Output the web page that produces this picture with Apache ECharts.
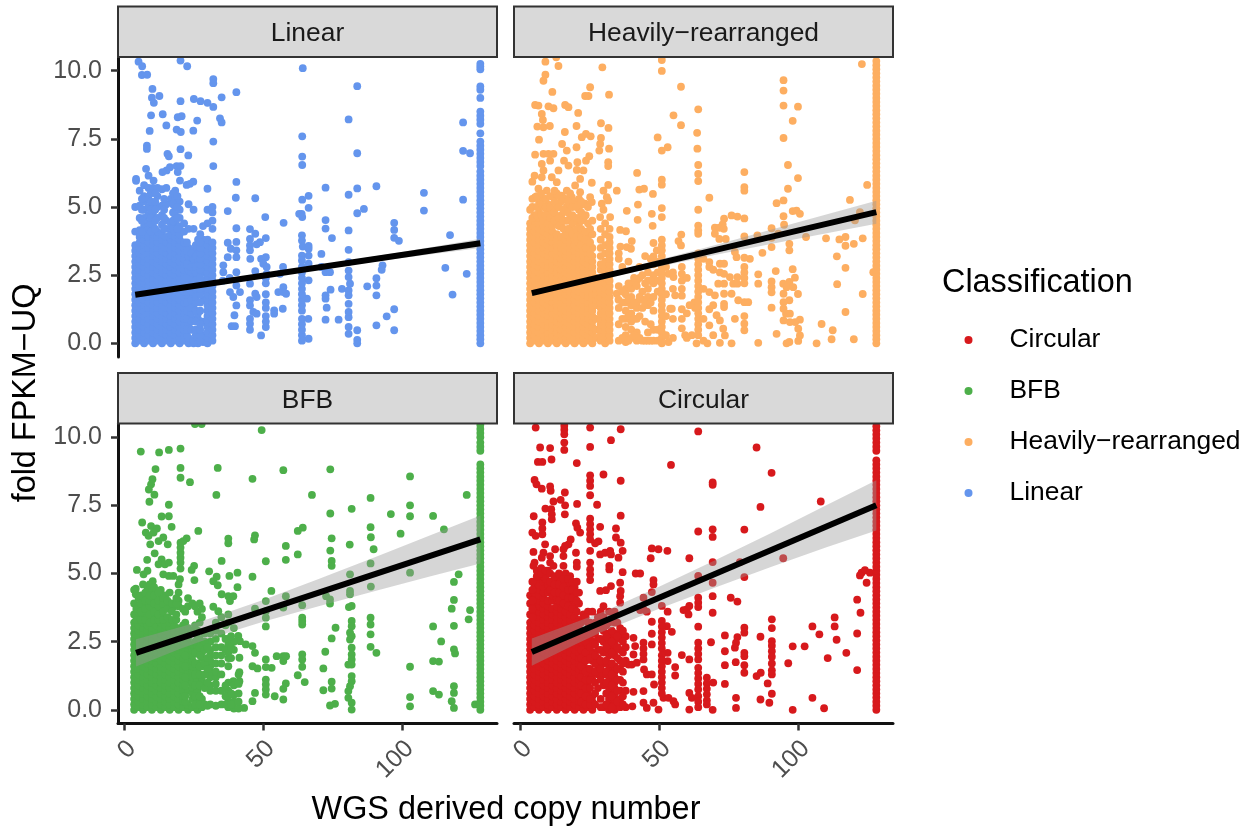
<!DOCTYPE html>
<html><head><meta charset="utf-8">
<script src="https://cdn.jsdelivr.net/npm/echarts@6/dist/echarts.min.js"></script>
<style>html,body{margin:0;padding:0;background:#fff}#c{width:1259px;height:827px}</style>
</head><body><div id="c"></div>
<script>
const classNames = ["Circular","BFB","Heavily\u2212rearranged","Linear"];
const classColors = ["#d7191c","#4daf4a","#fdae61","#6495ed"];
const xTicks = [0,50,100];
const yTicks = [0,2.5,5,7.5,10];

// Stacks of points: [copy number, fold value, fold value, ...]
const linearColumns = [
[128.2,0,.15,.3,.45,.6,.75,.9,1.05,1.2,1.35,1.5,1.65,1.8,1.95,2.1,2.25,2.4,2.55,2.7,2.85,3,3.15,3.3,3.45,3.6,3.75,3.9,4.05,4.2,4.35,4.5,4.65,4.8,4.95,5.1,5.25,5.4,5.55,5.7,5.85,6,6.15,6.3,6.5,6.65,6.8,6.95,7.1,7.25,7.4,7.7,8.05,8.2,8.35,8.5,9,9.3,9.42,10.05,10.15,10.25],
[4,0,.2,.4,.6,.8,1,1.2,1.4,1.6,1.8,2,2.2,2.4,2.6,2.8,3,3.2,3.4,3.6,4.1,5],
[5.6,.1,.3,.5,.7,.9,1.1,1.3,1.5,1.7,1.9,2.1,2.3,2.5,2.7,2.9,3.1,3.3,3.5,3.7,3.9,4.15,4.6,5.05,5.6],
[7.2,0,.2,.4,.6,.8,1,1.2,1.4,1.6,1.8,2,2.2,2.4,2.6,2.8,3,3.2,3.4,3.6,3.8,4,4.3,4.6,4.9,5.2,5.4,5.8],
[8.8,.1,.3,.5,.7,.9,1.1,1.3,1.5,1.7,1.9,2.1,2.3,2.5,2.7,2.9,3.1,3.3,3.5,3.7,3.9,4.2,4.4,4.7,5,5.3,5.7],
[10.4,0,.2,.4,.6,.8,1,1.2,1.4,1.6,1.8,2,2.2,2.4,2.6,2.8,3,3.2,3.4,3.6,3.8,4,4.3,4.8,5.1,5.7],
[12,.1,.3,.5,.7,.9,1.1,1.3,1.5,1.7,1.9,2.1,2.3,2.5,2.7,2.9,3.1,3.3,3.5,3.7,3.9,4.1,4.6,5,5.4,5.7],
[13.6,0,.2,.4,.6,.8,1,1.2,1.4,1.6,1.8,2,2.2,2.4,2.6,2.8,3,3.2,3.4,3.6,3.8,4,4.35,4.7,5.05,5.65],
[15.2,.1,.3,.5,.7,.9,1.1,1.3,1.5,1.7,1.9,2.1,2.3,2.5,2.7,2.9,3.1,3.3,3.5,3.7,3.9,4.2,4.5,5.1,5.7],
[16.8,0,.2,.4,.6,.8,1,1.2,1.4,1.6,1.8,2,2.2,2.4,2.6,2.8,3,3.2,3.4,3.6,3.8,4,4.4,5.3],
[18.4,.1,.3,.5,.7,.9,1.1,1.3,1.5,1.7,1.9,2.1,2.3,2.5,2.7,2.9,3.1,3.3,3.5,3.7,3.9,4.1,4.4,4.7,5,5.3,5.6],
[20,0,.2,.4,.6,.8,1,1.2,1.4,1.6,1.8,2,2.2,2.4,2.6,2.8,3,3.2,3.4,3.6,3.8,4,4.3,4.6,4.9,5.2],
[21.6,.1,.3,.5,.7,.9,1.1,1.3,1.5,1.7,1.9,2.1,2.3,2.5,2.7,2.9,3.1,3.3,3.5,3.7,4.1,4.4],
[23.2,0,.2,.7,.9,1.1,1.4,1.6,1.8,2,2.2,2.5,2.7,3,3.2,3.5,4.2,5.1],
[25,0,.1,.9,1.2,1.4,1.8,2,2.2,2.4,2.9,3.1,3.4,4.2,4.9],
[26.6,0,.9,1.1,1.9,2.1,2.3,2.5,2.7,2.9,3.1,3.3,3.8],
[28.4,.05,.3,.8,1.6,1.9,2.1,2.3,2.6,2.8,3,3.2,3.4,3.6,3.8,4.3],
[30,0,.2,.4,.6,.8,1,1.2,1.4,1.6,1.8,2,2.2,2.4,2.6,2.8,3,3.2,3.4,3.6,3.8,4.4,4.9],
[31.8,.1,.3,.5,.7,.9,1.1,1.3,1.5,1.7,1.9,2.1,2.3,2.5,2.7,2.9,3.1,3.3,3.5,3.7,4.2,4.5,4.8,5],
[64,.1,.3,.5,.7,.9,1.2,1.4,1.6,1.8,2,2.2,2.4,2.6,2.8],
[51,.6,.8,1,1.3,1.5,1.8,2.2,2.4],
[80.8,.35,.6,.96,1.15,1.45,1.76,1.94,2.43,2.67,2.98,3.43],
[22.6,.3,.5,.9,1.2,1.5,1.9,2.1,2.4,2.9,3.4,3.7],
[24.2,.5,.8,1.1,1.3,1.6,1.9,2.1,2.6,2.8,3.3],
[25.8,.3,.5,.8,1.2,1.5,1.7,2,2.3,2.6,2.8,3.2,3.6],
[27.4,.1,.3,.5,.7,1.2,1.5,1.8,2,2.2,2.4,2.7,2.9,3.1,3.3,3.5,3.7,4],
[6.4,4.1,4.5,4.9,5.3],[9.6,4.1,4.4,4.6,4.9,5.2,5.5],[11.2,4.2,4.5,4.9,5.2,5.5],[14.4,4.2,4.6,4.9,5.3],[17.6,4.2,4.5,4.8,5.1,5.5],[19.2,4.2,4.6,5,5.4]
];
const linearPoints = [[5.2,10.33],[6.5,10.16],[6.4,9.84],[8.3,9.85],[10.2,9.33],[12.7,9.07],[10,9.01],[10.7,8.82],[20.3,10.37],[22.7,10.16],[32.1,9.69],[32.1,9.54],[35.1,9.02],[40.4,9.21],[20.3,8.88],[25.1,8.96],[27.5,8.88],[30,8.82],[32.1,8.67],[34.5,8.25],[35.1,8.1],[26.3,8.17],[9.7,8.36],[13.9,8.4],[19.3,8.29],[20.7,8.33],[15.2,7.99],[9.2,7.79],[18.9,7.84],[20.4,7.75],[24.9,7.8],[32.1,7.4],[8.2,7.25],[8.2,7.13],[20.3,7.12],[15.6,6.95],[16.1,6.86],[23.1,6.89],[32.1,6.5],[7.9,6.4],[15.3,6.34],[16.5,6.46],[18.9,6.5],[20.3,6.5],[13.8,6.28],[19.3,6.28],[8.8,6.15],[10.6,5.97],[4.3,6.03],[4.3,5.96],[20.1,5.97],[24.9,5.93],[22.5,5.81],[23.7,5.85],[30,5.67],[40.4,5.92],[40.2,5.34],[47.2,5.32],[37.3,4.85],[64.3,10.09],[83.9,9.43],[80.8,8.21],[122,8.1],[64.1,7.59],[64.1,6.85],[64.1,6.54],[83.9,6.97],[122,7.06],[124.5,6.97],[72.5,5.71],[80.8,5.45],[83.9,5.68],[90.8,5.76],[107.9,5.52],[107.9,4.87],[122,5.27],[66.4,5.41],[64.1,5.27],[66.4,4.97],[86.3,4.93],[83.9,4.77],[63.9,4.75],[63,4.75],[64.1,4.63],[50.8,4.63],[57.4,4.42],[72.5,4.52],[72.5,4.21],[80.8,4.14],[97.2,4.42],[97.2,4.16],[97.2,3.87],[98.9,3.76],[117.3,3.97],[74.8,3.86],[64,3.96],[64,3.77],[64.3,3.55],[66.4,3.57],[66.4,3.47],[45.3,4.19],[47.2,4.02],[51,3.86],[48.9,3.71],[47.7,3.63],[45.3,3.83],[45.3,3.59],[45.3,3.41],[40.4,4.22],[40.4,3.72],[37.3,3.69],[38.4,3.47],[40.4,3.41],[40.4,3.16],[37.3,3.16],[45.4,3.1],[35.7,2.86],[35.7,2.61],[40.4,2.61],[47.2,2.65],[49.3,3.1],[51,3.16],[50.1,2.92],[51.3,2.8],[51.3,2.55],[57.2,2.8],[56.1,2.55],[64,3.22],[64,3.04],[66.4,3.22],[66.4,2.92],[71,3.28],[71,2.8],[72.5,2.61],[74.1,2.61],[93,2.86],[92.7,2.7],[90.8,2.39],[90.8,2.12],[90.8,1.76],[87.5,2.09],[81.3,2.19],[83.9,.48],[83.9,.13],[83.9,0],[97.2,1.25],[94.5,.99],[90.8,.66],[97.2,.48],[115.6,2.77],[118.2,1.79],[123.3,2.55],[78.4,2],[74.3,1.97],[72.5,1.76],[72.5,1.64],[72.9,1.31],[72.5,.87],[77.2,.87],[66.3,.9],[66.4,2.31],[65.8,1.64],[66.4,.17],[57.3,2.06],[57.3,1.88],[55.5,1.88],[58.3,1.82],[57.1,1.27],[54,1.21],[54,1.09],[49.3,.29],[45.3,1.58],[45.3,1.39],[45.3,.9],[45.3,.72],[45.3,.5],[47.2,1.82],[47.7,1.7],[46.5,1.15],[47.7,1.09],[40.4,2.12],[40.4,1.39],[39.7,1.03],[38.7,.63],[39.9,.63],[38.1,1.88],[39.3,1.7],[41.7,1.88],[45.3,2.19],[35.5,2.3],[38,2.4]];

const heavyColumns = [
[128.2,0,.15,.3,.45,.6,.75,.9,1.05,1.2,1.35,1.5,1.65,1.8,1.95,2.1,2.25,2.4,2.55,2.7,2.85,3,3.15,3.3,3.45,3.6,3.75,3.9,4.05,4.2,4.35,4.5,4.65,4.8,4.95,5.1,5.25,5.4,5.55,5.7,5.85,6,6.15,6.3,6.45,6.6,6.75,6.9,7.05,7.2,7.35,7.5,7.65,7.8,7.95,8.1,8.25,8.4,8.55,8.7,8.85,9,9.15,9.3,9.45,9.6,9.75,9.9,10.05,10.2,10.35],
[3.6,0,.2,.4,.6,.8,1,1.2,1.4,1.6,1.8,2,2.2,2.4,2.6,2.8,3,3.2,3.4,3.6,3.8,4,4.2,4.4,4.9],
[5.2,.1,.3,.5,.7,.9,1.1,1.3,1.5,1.7,1.9,2.1,2.3,2.5,2.7,2.9,3.1,3.3,3.5,3.7,3.9,4.1,4.3,4.5,4.7],
[6.8,0,.2,.4,.6,.8,1,1.2,1.4,1.6,1.8,2,2.2,2.4,2.6,2.8,3,3.2,3.4,3.6,3.8,4,4.2,4.4,4.6,4.8,5.2],
[8.4,.1,.3,.5,.7,.9,1.1,1.3,1.5,1.7,1.9,2.1,2.3,2.5,2.7,2.9,3.1,3.3,3.5,3.7,3.9,4.1,4.3,4.5,4.7,5,5.3],
[10,0,.2,.4,.6,.8,1,1.2,1.4,1.6,1.8,2,2.2,2.4,2.6,2.8,3,3.2,3.4,3.6,3.8,4,4.2,4.4,4.7,5.1],
[11.6,.1,.3,.5,.7,.9,1.1,1.3,1.5,1.7,1.9,2.1,2.3,2.5,2.7,2.9,3.1,3.3,3.5,3.7,3.9,4.1,4.3,4.6,4.8],
[13.2,0,.2,.4,.6,.8,1,1.2,1.4,1.6,1.8,2,2.2,2.4,2.6,2.8,3,3.2,3.4,3.6,3.8,4,4.4,5,5.5],
[14.8,.1,.3,.5,.7,.9,1.1,1.3,1.5,1.7,1.9,2.1,2.3,2.5,2.7,2.9,3.1,3.3,3.5,3.7,3.9,4.3,4.7,5.2],
[16.4,0,.2,.4,.6,.8,1,1.2,1.4,1.6,1.8,2,2.2,2.4,2.6,2.8,3,3.2,3.4,3.6,3.8,4,4.5,4.9,5.3],
[18,.1,.3,.5,.7,.9,1.1,1.3,1.5,1.7,1.9,2.1,2.3,2.5,2.7,2.9,3.1,3.3,3.5,3.7,3.9,4.2,4.6,5.1,5.5],
[19.6,0,.2,.4,.6,.8,1,1.2,1.4,1.6,1.8,2,2.2,2.4,2.6,2.8,3,3.2,3.4,3.6,3.8,4.1,4.5,5.2],
[21.2,.1,.3,.5,.7,.9,1.1,1.3,1.5,1.7,1.9,2.1,2.3,2.5,2.7,2.9,3.1,3.3,3.5,3.7,4,4.4,4.9,5.3],
[22.8,0,.2,.4,.6,.8,1,1.2,1.4,1.6,1.8,2,2.2,2.4,2.6,2.8,3,3.2,3.4,3.7,4.1,4.6,5.1],
[24.4,.1,.3,.5,.7,.9,1.1,1.3,1.5,1.7,1.9,2.1,2.3,2.5,2.7,2.9,3.1,3.3,3.6,3.9,4.4,5],
[26,0,.2,.4,.6,.8,1,1.2,1.4,1.6,1.8,2,2.2,2.4,2.6,2.8,3,3.2,3.5,4,4.5],
[27.4,.2,.5,.9,1.4,1.6,1.8,2,2.2,2.4],
[29,.1,.3,.5,.7,.9,1.1,1.3,1.5,1.7,1.9,2.1,2.3,2.7,2.9,3.2,3.5,3.8,4.2],
[30.6,0,.2,.4,.6,.8,1,1.2,1.4,1.6,1.8,2,2.2,2.4,2.6,2.8,3,3.3,3.6,4,4.4],
[32.2,.1,.3,.5,.7,.9,1.1,1.3,1.5,1.7,1.9,2.1,2.3,2.5,2.7,2.9,3.1,3.3,3.5,3.7,3.9,4.2],
[38,2,1.8,1.5,1.2,.9,.6,.3,.05],
[40,2.2,2,1.7,1.4,1.1,.8,.5,.2],
[42,2.3,2.1,1.5,1.3,.9,.4,.1],
[44,2.5,1.9,1.6,1.3,.1],
[46,2.6,2.3,2,1.7,1.4,.4,.1],
[48,2.9,2.5,2.2,1.7,1.2,.5,.1],
[49.5,3,2.6,2.3,1.9,.5,.1],
[51,3.2,3,2.8,2.6,2.4,2.2,2,1.8,1.6,1.4,1.2,1,.8,.6,.4,.2,0],
[58.2,2.8,2.55,2.3,2,1.75,1.25,.9,.55],
[64.1,3.3,3.1,2.9,2.7,2.5,2.3,2.1,1.9,1.7,1.5,1.3,1.1,.9,.7,.5,.3],
[73.4,2.92,2.55,2.19,1.82,1.45,1.33],
[80.7,2.8,2.6,2.4,2.2,1,.72,.48],
[90.5,2.27,2.06,1.87,1.31],
[94.8,1.82,1.51,1.27,.84],
[4.4,4.6,5,5.3],[6,4.7,5,5.4],[7.6,4.7,5.1,5.5],[9.2,4.7,5,5.3],[10.8,4.6,5,5.4],[12.4,4.5,4.8,5.2,5.6],[14,4.3,4.6,5,5.4],[15.6,4.2,4.5,4.9,5.3],[17.2,4.2,4.5,4.8,5.2],[18.8,4,4.4,4.7,5],[20.4,3.9,4.2,4.6,5],[22,3.6,3.9,4.2,4.5,4.8,5.2],[23.6,3.5,3.8,4.1,4.7],[25.2,3.3,3.7,4.2],
[35.5,.1,.7,1.3,2.1,3.1,3.3],[36.8,.2,.9,1.5,1.9,2.8],[39,.1,1,1.6,2.2,3],[41,.3,.9,1.5,2.4],[43,.2,1,1.7,2.4,2.8],[45,.1,.8,1.5,2.2,3.2],[47,.1,.7,1.5,2.3,3.1],[52.5,.3,1,1.8,2.8],[55,.2,.9,2,2.6],[60,.2,1.1,2.4],[66,.1,.9,2,3.1],[69.5,.3,1.4,2.7]
];
const heavyPoints = [[9.1,10.33],[13,10.49],[13.8,10.17],[9.1,9.85],[8.4,9.63],[11.6,9.22],[25.2,9.39],[24.6,9.07],[23.4,9.07],[32,9.12],[29.6,10.12],[51,10.39],[51,9.99],[57.9,9.41],[94.8,9.65],[94.8,9.27],[94.8,8.72],[100,8.68],[123,10.24],[64.1,8.58],[55.2,8.36],[57.9,8],[98.1,8.16],[94.8,7.53],[49.5,7.55],[63.7,7.72],[63.8,7.14],[51,7.07],[53.1,7.19],[64.1,6.54],[96.4,6.54],[64.1,6.21],[64.1,5.95],[80.7,6.28],[80.7,5.73],[80.7,5.6],[100,6.06],[96.4,5.67],[124.9,5.81],[42.1,6.25],[42.9,5.64],[44.6,5.67],[47.8,5.48],[51,6],[51,5.82],[68.1,5.34],[118.7,5.26],[92.3,5.14],[94.8,5.24],[42.4,5.09],[38.4,4.86],[51,4.96],[51,4.63],[47.4,4.75],[42.3,4.53],[47.7,4.31],[64.1,4.9],[64.1,4.32],[64.1,4.14],[64.1,4.02],[94.8,4.66],[98.1,4.85],[99.5,4.87],[100.7,4.75],[73.4,4.57],[76.1,4.69],[78.2,4.65],[80.7,4.58],[72.9,4.36],[70.1,4.24],[71.7,4.24],[70.1,4.02],[71.7,3.83],[74,3.83],[73.3,4.2],[90.5,4.22],[95,4.35],[36,4.16],[38.1,4.11],[40.2,3.75],[36.1,3.55],[38.4,3.53],[39.9,3.47],[58,3.99],[57,3.75],[57.9,3.59],[51,3.8],[51,3.59],[51,3.41],[48,3.68],[48,3.19],[49.2,3.41],[80.7,3.92],[85.4,3.96],[90.5,3.87],[90.5,3.53],[96.9,3.65],[96.9,3.41],[92.9,4.02],[102.9,3.9],[110.1,3.85],[114.9,3.81],[117.1,3.9],[117.1,3.58],[120.1,3.65],[123.3,3.85],[122.3,4.81],[120.5,4.51],[114,3.19],[117.1,2.77],[114.1,2.17],[123.3,1.81],[127.1,2.61],[117.1,1.15],[108.5,.71],[112.5,.48],[112.1,.15],[120.1,.15],[106.7,0],[87.2,3.32],[82.7,3.1],[80.7,3.14],[77.9,3.16],[77.3,3.35],[85.7,2.53],[85.7,2.19],[92,2.65],[98.1,2.72],[98.9,2.41],[96.9,2.25],[94.7,2.19],[95.9,2.06],[98.3,2.06],[100,1.81],[96.9,1.58],[95.7,1.09],[97.1,1.09],[97.1,.78],[100.7,.87],[99,.78],[100.1,.54],[100.7,.29],[92.3,.35],[96.9,.05],[95.9,0],[100.1,.09],[85.7,.02],[80.7,1.51],[82.1,1.51],[77.3,.9],[71.9,2.92],[71.9,2.6],[71.3,2.19],[75.5,2.43],[76.7,2.19],[78.2,2.43],[78.2,2.19],[76.1,1.82],[78.5,1.58],[68.1,2.98],[68.1,2.8],[68.1,1.88],[70.1,1.76],[68.1,1.25],[70.7,1.03],[71.9,.84],[73.1,.54],[73.7,.29],[71.9,.02],[76.1,0],[67.4,0],[68.1,.66],[62.7,1.5],[61,1.4],[63,1.3],[59.4,.3],[61.8,.3],[63.5,0],[54,1.27],[55.8,1.76],[53.4,2.55],[55.2,2.43],[54.6,1.27],[53.4,.05],[5.4,8.74],[6.6,8.72],[10.2,8.69],[12,8.62],[16.2,8.74],[17.4,8.66],[20.9,8.45],[7.8,8.41],[8.2,8.19],[6.2,7.95],[8.4,7.92],[10.7,7.97],[20.3,7.97],[16.1,7.75],[6.8,7.47],[22.2,7.56],[23.7,7.68],[25.4,7.59],[29.1,8.07],[31.8,7.9],[29.1,7.53],[28.8,7.31],[28.5,7.07],[32,7.14],[15.1,7.31],[16.8,7.07],[20.3,7.19],[5.4,6.92],[8.4,6.95],[10.2,6.95],[12,6.95],[7.8,6.58],[10.8,6.7],[15.8,6.7],[17.4,6.52],[20.6,6.64],[24.9,6.86],[23.7,6.7],[31.7,6.64],[31.7,6.5],[8.4,6.34],[13.8,6.34],[20.4,6.36],[22.8,6.34],[5.2,6.15],[4.4,5.93],[7.8,6.09],[11.4,6.09],[13.2,5.91],[21.6,6.03],[19.8,5.79],[25.8,5.89],[31.7,5.81],[34.8,5.6],[30,5.6],[6.6,5.67],[9.6,5.6],[16.8,5.6],[21.6,5.54],[5.4,5.36],[12,5.36],[15,5.42],[18.6,5.36],[25.2,5.36],[31.2,5.36],[9.6,4.93],[16.8,5],[23.4,5.12],[25.8,5.18],[29.4,5.12],[31.7,5.24],[28.8,4.63],[32.4,4.63],[30,4.9],[34.8,1.82],[35.4,1.6]];

const bfbColumns = [
[128.2,0,.15,.3,.45,.6,.75,.9,1.05,1.2,1.35,1.5,1.65,1.8,1.95,2.1,2.25,2.4,2.55,2.7,2.85,3,3.15,3.3,3.45,3.6,3.75,3.9,4.05,4.2,4.35,4.5,4.65,4.8,4.95,5.1,5.25,5.4,5.55,5.7,5.85,6,6.15,6.3,6.45,6.6,6.75,6.9,7.05,7.2,7.35,7.5,7.65,7.8,7.95,8.1,8.25,8.4,8.55,8.7,8.85,9,9.5,9.65,9.8,10,10.15,10.3,10.45],
[3.6,0,.2,.4,.6,.8,1,1.2,1.4,1.6,1.8,2,2.2,2.4,2.6,2.8,3,3.2,3.5,3.9,4.4],
[5.2,.1,.3,.5,.7,.9,1.1,1.3,1.5,1.7,1.9,2.1,2.3,2.5,2.7,2.9,3.1,3.4,3.6,3.8,4.1],
[6.8,0,.2,.4,.6,.8,1,1.2,1.4,1.6,1.8,2,2.2,2.4,2.6,2.8,3,3.2,3.5,3.8,4.1,4.6],
[8.4,.1,.3,.5,.7,.9,1.1,1.3,1.5,1.7,1.9,2.1,2.3,2.5,2.7,2.9,3.1,3.3,3.6,3.9,4.3,4.5,5.1],
[10,0,.2,.4,.6,.8,1,1.2,1.4,1.6,1.8,2,2.2,2.4,2.6,2.8,3,3.2,3.4,3.8,4.1,4.4],
[11.6,.1,.3,.5,.7,.9,1.1,1.3,1.5,1.7,1.9,2.1,2.3,2.5,2.7,2.9,3.1,3.3,3.6,3.9,4.3],
[13.2,0,.2,.4,.6,.8,1,1.2,1.4,1.6,1.8,2,2.2,2.4,2.6,2.8,3,3.2,3.4,3.7,4.1,4.4],
[14.8,.1,.3,.5,.7,.9,1.1,1.3,1.5,1.7,1.9,2.1,2.3,2.5,2.7,2.9,3.1,3.3,3.8,4.2],
[16.4,0,.2,.4,.6,.8,1,1.2,1.4,1.6,1.8,2,2.2,2.4,2.6,2.8,3,3.2,3.8,4.3],
[18,.1,.3,.5,.7,.9,1.1,1.3,1.5,1.7,1.9,2.1,2.3,2.5,2.7,2.9,3.1,3.8],
[19.6,0,.2,.4,.6,.8,1,1.2,1.4,1.6,1.8,2,2.2,2.4,2.6,2.8,3,3.8,4,4.3,4.6],
[21.2,.1,.3,.5,.7,.9,1.1,1.3,1.5,1.7,1.9,2.1,2.3,2.5,2.7,2.9,3.1,3.7],
[23,0,.2,.7,1,1.2,1.4,1.6,1.8,2,2.2,2.4,2.6,3,3.8,4.1],
[24.6,.1,.4,.6,.8,1,1.2,1.4,1.6,1.8,2,2.2,2.4,2.9,3.9],
[26.4,0,.3,.7,.9,1.1,1.3,1.5,1.7,2.1,2.3,2.6,2.9,3.6],
[28,.1,.4,1,1.2,1.6,1.9,2.1,2.4,3.4,3.7],
[31,.2,.7,.9,1.2,1.4,1.6,1.8,2,2.2,2.5,2.8],
[33,.15,.7,.95,1.2,1.4,1.7,2,2.3,2.6,2.9,3.2],
[37.5,.1,.3,.5,.7,1,1.6,1.9,2.1,2.4,2.6,3.2,3.5],
[39.5,.05,.3,.55,.9,2.2,2.5,3],
[41.2,.05,.3,.6,.95,1.3],
[20.3,5.18,5.4,5.58,5.76,5.95,6.13],
[4.4,3.3,3.7],[6,3.3,3.6,3.9,4.2],[7.6,3.3,3.7,4,4.3],[9.2,3.2,3.5,3.8,4,4.2,4.6],[10.8,3.3,3.6,3.9,4.2,4.5],[12.4,3.3,3.5,3.8,4,4.3],[14,3.3,3.6,3.9,4.1],[15.6,3.4,3.7,4],[17.2,3.3,3.6,3.9],[18.8,3.3,3.5,3.9,4.1],
[22,.3,.5,.9,1.2,1.6,2,2.4,2.8,3.2,3.6],[25.5,.2,.5,.9,1.3,1.7,2.1,2.5,3.1,3.8],[27.2,.2,.5,.9,1.3,1.6,2,2.3,2.6,3.2,3.9],[29,.2,.8,1.3,1.7,2.2,2.5,2.8],[30,.15,1,1.5,1.9,2.3],[35,.2,.7,1.3,1.7,2,2.3,2.8,3.4],[36.5,.2,.5,.9,2.2,2.6,3.1],[38.5,.2,.6,1.9,2.3,2.7]
];
const bfbPoints = [[25.5,10.48],[27.9,10.48],[49.5,10.26],[6,9.47],[12.6,9.44],[16.1,9.53],[20.3,9.58],[11.3,8.83],[20.3,8.87],[33.7,8.87],[57.3,8.79],[74.2,8.82],[102.9,8.56],[46.2,8.47],[20.3,8.51],[23.7,8.35],[10.2,8.46],[9.7,8.27],[8.9,8.08],[10.9,7.89],[9.1,7.63],[33.2,7.88],[67.6,7.88],[88.7,7.77],[123.3,7.88],[16.1,7.52],[81.9,7.37],[102.9,7.5],[102.9,7.1],[96,7.18],[111.2,7.11],[74.2,7.2],[13.5,7.09],[16.1,7.1],[6.5,6.87],[17.1,6.71],[9.7,6.74],[11.8,6.65],[88.7,6.7],[115.1,6.62],[64.3,6.68],[62.5,6.56],[26.7,6.56],[99.5,6.46],[47.1,6.4],[46.8,6.25],[37.5,6.28],[37.5,6.11],[74.7,6.29],[88.8,6.33],[81.2,6.06],[58.2,6.01],[22.5,6.29],[21.3,6.19],[7.8,6.5],[8.8,6.38],[10.6,6.5],[12.4,6.19],[14.1,6.32],[15.7,6.07],[9.4,6.07],[74.2,5.84],[89.8,5.89],[62.5,5.7],[58.2,5.5],[51,5.45],[35.1,5.46],[11,5.74],[8.3,5.5],[13.5,5.52],[12.4,5.34],[14.7,5.34],[16.1,5.4],[4.6,5.13],[74.7,5.46],[74.7,5.28],[88.7,5.37],[102.9,5.03],[120.4,4.97],[118.7,4.69],[81.3,4.97],[25.2,5.28],[24.3,5.13],[30.6,5.08],[40.8,5.03],[37.9,4.91],[46.2,4.88],[33.3,4.88],[32.1,4.72],[33.7,4.57],[40.8,4.5],[25.3,4.76],[20.1,4.79],[14.1,4.97],[16.1,4.91],[17.7,4.91],[7,4.97],[10.3,4.72],[4.2,4.44],[4.2,4.24],[88.8,4.52],[53,4.36],[58.2,4.17],[35.1,4.24],[37.5,4.17],[39.3,4.17],[38.1,3.99],[72.7,4.17],[74.1,4.05],[74.1,3.9],[81.3,4.36],[81.3,4.24],[118.7,4.03],[117.9,3.71],[124.5,3.66],[124,3.32],[118.7,3.08],[111.2,3.06],[81.9,3.81],[80.9,3.77],[64.1,3.84],[57.3,3.75],[51,3.99],[51,3.62],[51,3.38],[51,3.06],[47.1,3.71],[32.1,3.78],[33.9,3.62],[64.1,3.38],[64.1,3.26],[64.1,3.13],[81.9,3.26],[81.9,3.07],[81.3,2.83],[81.9,2.7],[81.3,2.58],[88.7,3.38],[88.7,3.13],[88.7,2.77],[76.1,3.01],[74.7,2.62],[81.9,2.28],[88.7,2.31],[90.8,2.09],[114.1,2.51],[118.7,2.22],[119.1,2.07],[72.4,2.13],[64.1,2.03],[64.1,1.85],[64.1,1.58],[54.9,1.97],[57.3,1.97],[57.3,1.79],[58.3,1.97],[51,1.85],[51,1.57],[53.1,1.54],[81.9,2.03],[81.9,1.85],[80.7,1.66],[81.9,1.66],[102.9,1.58],[111.2,1.79],[113.3,1.77],[71.7,1.52],[62.5,1.27],[65,1.02],[74.7,1.03],[74.7,.78],[71.7,.72],[81.9,1.24],[81.9,1.05],[81.3,.87],[80.7,.69],[80.7,.44],[81.9,.26],[81.9,.01],[75.9,.22],[74.1,.16],[58.2,.97],[57.3,.77],[54.2,.5],[57.3,.38],[51,1.11],[51,.93],[51,.75],[51,.56],[46.2,1.6],[48,1.52],[47.1,2.09],[46.2,2.34],[43.8,2.4],[41.1,2.71],[41.7,2.52],[41.5,1.91],[41.5,1.38],[39.3,1.05],[41.5,1.05],[47.1,.62],[46.2,.32],[43.2,.07],[102.9,.47],[102.9,.13],[111.2,.69],[113.3,.56],[118.7,.87],[118.7,.62],[117.9,.32],[118.7,.07],[126.3,.2]];

const circularColumns = [
[128.2,0,.15,.3,.45,.6,.75,.9,1.05,1.2,1.35,1.5,1.65,1.8,1.95,2.1,2.25,2.4,2.55,2.7,2.85,3,3.15,3.3,3.45,3.6,3.75,3.9,4.05,4.2,4.35,4.5,4.65,4.8,4.95,5.1,5.25,5.4,5.55,5.7,5.85,6,6.15,6.3,6.45,6.6,6.75,6.9,7.05,7.2,7.35,7.5,7.65,7.8,7.95,8.1,8.25,8.4,8.55,8.7,8.85,9,9.15,9.5,9.65,9.8,9.95,10.1,10.25,10.4],
[3.6,0,.2,.4,.6,.8,1,1.2,1.4,1.6,1.8,2,2.2,2.4,2.6,2.8,3,3.2,3.5,3.9,4.2],
[5.2,.1,.3,.5,.7,.9,1.1,1.3,1.5,1.7,1.9,2.1,2.3,2.5,2.7,2.9,3.1,3.3,3.5,3.7,3.9,4.1,4.3,4.5,4.7],
[6.8,0,.2,.4,.6,.8,1,1.2,1.4,1.6,1.8,2,2.2,2.4,2.6,2.8,3,3.2,3.4,3.6,3.8,4,4.2,4.4,4.6,4.8,5],
[8.4,.1,.3,.5,.7,.9,1.1,1.3,1.5,1.7,1.9,2.1,2.3,2.5,2.7,2.9,3.1,3.3,3.5,3.7,3.9,4.1,4.3,4.5,4.7,4.9],
[10,0,.2,.4,.6,.8,1,1.2,1.4,1.6,1.8,2,2.2,2.4,2.6,2.8,3,3.2,3.4,3.6,3.8,4,4.3,4.6,5.1],
[11.6,.1,.3,.5,.7,.9,1.1,1.3,1.5,1.7,1.9,2.1,2.3,2.5,2.7,2.9,3.1,3.3,3.5,3.7,4,4.2,4.5],
[13.2,0,.2,.4,.6,.8,1,1.2,1.4,1.6,1.8,2,2.2,2.4,2.6,2.8,3,3.2,3.4,3.6,3.8,4.1,4.4,4.8],
[14.8,.1,.3,.5,.7,.9,1.1,1.3,1.5,1.7,1.9,2.1,2.3,2.5,2.7,2.9,3.1,3.3,3.5,3.7,3.9,4.2,4.5,4.8],
[16.4,0,.2,.4,.6,.8,1,1.2,1.4,1.6,1.8,2,2.2,2.4,2.6,2.8,3,3.2,3.4,3.6,4,4.3,4.7,5],
[18,.1,.3,.5,.7,.9,1.1,1.3,1.5,1.7,1.9,2.1,2.3,2.5,2.7,2.9,3.1,3.3,3.5,3.9,4.2,4.6,4.9],
[19.6,0,.2,.4,.6,.8,1,1.2,1.4,1.6,1.8,2,2.2,2.4,2.6,2.8,3,3.4,3.8,4.2,4.5],
[21.2,.1,.3,.5,.7,.9,1.1,1.3,1.5,1.7,1.9,2.1,2.3,2.5,2.7,3,3.3,3.9,4.3],
[22.8,0,.2,.4,.7,1,1.4,1.7,2,2.3,2.6,3.5],
[24.4,.1,.3,.6,.9,1.2,1.5,1.9,2.1,2.4,2.7,3.2,3.6],
[26,0,.3,.5,1.1,1.3,1.8,2.1,2.5,2.9,3.6],
[28,.8,1.3,1.6,1.9,2.2,2.6,3,3.4],
[30,.1,.9,1.3,1.7,2.1,2.5,2.9,3.4,3.8],
[32,0,.2,.4,.6,.8,1,1.2,1.4,1.6,2,2.2,2.4,2.6,2.8,3.2,3.6],
[34,0,.2,.4,.6,.8,1,1.2,1.4,1.6,2,2.2,2.4,2.6,2.8,3.2,3.6],
[36,.1,.4,.7,1.1,1.5,1.8,2.2,2.6,2.8,3],
[38,.1,.7,1.8,2.3,2.7],
[51,3.26,3.06,2.85,2.65,2.45,2.25,2,1.8,1.6,1.4,1.2,1,.8,.6],
[44.4,2.46,2.25,2.05,1.85],
[64.1,2.46,2.25,2.05,1.85,1.54,1.35,1.15,.95,.75,.5,.3,.1],
[67.2,1.18,.97,.77,.57,.35,.2],
[90.6,2.52,2.35,2.15,1.95,1.7,1.45,1.3],
[15.9,10.42,10.27,10.11,9.8,9.53],
[25.2,8.6,8.4,8.21,7.87,7.01,6.81,6.62,6.44,6.25,5.83,5.4,5.15,4.97,4.76],
[4.4,3.4,3.7,4,4.4,4.7],[6,4.9,5.1],[7.6,5,5.2],[9.2,4.8,5.1],[10.8,4.4,4.7,5],[12.4,4.3,4.6,4.9],[14,4,4.3,4.6,5],[15.6,3.9,4.2,4.5,4.8],[17.2,3.8,4.1,4.4,4.8],[18.8,3.7,4.1,4.4,4.7],[20.4,3.2,3.6,4,4.3,4.7],
[22,.3,.6,.9,1.2,1.6,1.9,2.2,2.5,2.8,3.2],[23.6,.2,.5,.8,1.1,1.4,1.8,2.1,2.5,2.9,3.4],[25.2,.2,.4,.8,1.1,1.5,1.9,2.3,2.7,3.2],[27,.2,.6,1,1.4,1.7,2,2.4,2.8,3.2],[29,.1,.4,1.1,1.5,1.8,2.2,2.6,3,3.6],[31,.2,.6,1,1.4,1.8,2.3,2.7,3.1],[33,.1,.5,.9,1.3,1.7,2.1,2.5,2.9,3.3],[35,.3,.7,1.1,1.5,1.9,2.3,2.7,3.2],[37,.2,.5,1,1.4,1.7,2.1,2.5,2.9]
];
const circularPoints = [[5.6,10.35],[25.2,10.35],[36.2,10.29],[64.1,10.21],[32.7,9.89],[25.2,9.64],[7.2,9.62],[10.8,9.6],[85.1,9.62],[11.3,9.18],[6.4,9.09],[8,9.09],[20.4,9.05],[54.3,8.98],[90.5,8.69],[30,8.63],[36.2,8.4],[69.3,8.34],[69.3,8.25],[5.2,8.43],[5.9,8.27],[7.8,8.11],[10.8,8.19],[11,8.03],[16.1,7.97],[108.2,7.64],[86.5,7.44],[14.6,7.7],[12,7.64],[16.2,7.5],[20.5,7.55],[27.7,7.52],[11.2,7.36],[11.4,7.17],[11.4,6.99],[16.1,7.17],[9.1,7.38],[4.9,7.1],[36.2,7.12],[28.8,6.71],[34.5,6.65],[20.1,6.84],[21.6,6.5],[20.6,6.68],[8,6.87],[8,6.65],[8,6.44],[4.4,6.5],[5.6,6.38],[64.1,6.54],[69.3,6.62],[69.3,6.34],[80.7,6.61],[34.5,6.32],[36.2,6.13],[18.2,6.25],[17.4,6.07],[28.2,6.18],[27,6.11],[9,6.07],[12.6,5.89],[15.6,5.89],[16.2,6.01],[20.1,5.76],[28.8,5.7],[30.6,5.76],[32.4,5.83],[32.7,5.7],[36.9,5.83],[35.4,5.58],[47.4,5.92],[49.8,5.89],[53,5.83],[47,5.56],[60.9,5.56],[94.7,5.56],[69.3,5.42],[79.1,5.42],[4.8,5.79],[5.2,5.4],[4.8,5.28],[8.4,5.76],[10.8,5.64],[7.8,5.58],[10.8,5.4],[12,5.28],[15.6,5.64],[20.4,5.4],[20.4,5.25],[15.6,5.28],[32.1,5.28],[32.1,5.15],[36.9,5.05],[41.6,5],[43.2,5],[122.9,5.03],[124.1,5.12],[125.9,5.03],[122.3,4.93],[124.7,4.66],[64.1,4.91],[80.7,4.87],[48,4.76],[48,4.6],[69.3,4.66],[69.3,4.17],[47.4,4.32],[36,4.66],[32.7,4.54],[28.8,4.36],[30.9,4.39],[36.2,4.36],[36,4.17],[36,3.93],[44.4,4.11],[44.4,3.68],[45.6,3.6],[43.2,3.66],[51,3.81],[53.1,3.6],[64.1,4.11],[64.1,3.93],[64.1,3.77],[60.9,3.81],[60,3.68],[58.8,3.66],[60.6,3.5],[69.3,3.56],[75.8,4.11],[78.2,3.97],[121.3,4.04],[122.5,3.56],[121.3,2.8],[121.3,1.46],[113.2,3.39],[113.2,3.06],[113.9,2.57],[105.2,3.06],[107.7,2.77],[90.6,3.32],[90.6,3],[98.1,2.33],[102.4,2.33],[110.7,1.9],[117.4,2.09],[96.5,1.71],[105.2,.44],[109.4,.06],[98.1,0],[80.7,3.01],[80.7,2.83],[86.5,2.68],[78.2,2.67],[77.7,2.46],[77.3,2.28],[73.7,2.73],[73.7,2.15],[73.7,1.64],[73.7,.95],[68.7,2.48],[64.1,3.05],[60.9,1.85],[58.2,2.01],[60.9,.62],[61.8,.44],[60.9,.01],[69.5,1],[69.3,0],[77.7,.44],[77.7,.07],[80.7,2.09],[80.7,1.97],[77.6,1.75],[80.7,1.64],[80.7,1.36],[86.5,.38],[89.7,.26],[90.6,.59],[89.1,.97],[85.1,1.24],[86.6,1.36],[47.4,3.23],[47.4,2.79],[47.4,2.4],[52.8,3.07],[54.6,2.86],[53.1,2.09],[53.1,1.79],[55.8,1.57],[55.8,1.26],[44.6,1.48],[45.6,1.3],[47.4,1.3],[48.2,.93],[40.8,.66],[44.4,.69],[40.4,.13],[44.4,.26],[45.6,.07],[48,.26],[49.8,.01],[51.6,.44],[53.4,.44],[55.2,.32],[55.8,.2],[40.8,2.64],[41.4,2.34],[40.8,2.03],[40.2,1.66],[39,1.66],[42,1.73]];

// Fitted lines [x, y] and confidence bands [x, low, high]
const linearFit = [[4,1.78],[128.2,3.67]];
const heavyFit = [[4.2,1.84],[128.2,4.81]];
const bfbFit = [[4.3,2.09],[128.2,6.25]];
const circularFit = [[4.2,2.12],[128.2,7.5]];
const linearBand = [[4,1.71,1.85],[20,1.98,2.06],[40,2.28,2.38],[70,2.72,2.86],[100,3.13,3.35],[128.2,3.5,3.84]];
const heavyBand = [[4.2,1.74,1.94],[20,2.14,2.3],[40,2.6,2.8],[70,3.24,3.6],[100,3.84,4.44],[128.2,4.39,5.23]];
const bfbBand = [[4.3,1.59,2.59],[20,2.23,3.03],[30,2.6,3.32],[50,3.23,4.03],[70,3.8,4.8],[90,4.35,5.59],[110,4.89,6.39],[128.2,5.37,7.13]];
const circularBand = [[4.2,1.62,2.62],[20,2.41,3.21],[30,2.88,3.6],[50,3.71,4.51],[70,4.48,5.48],[90,5.23,6.47],[110,5.95,7.49],[128.2,6.58,8.42]];

const panels = [
 {title:classNames[3],color:classColors[3],cols:linearColumns,pts:linearPoints,fit:linearFit,band:linearBand,left:118,top:57,first:true,last:false},
 {title:classNames[2],color:classColors[2],cols:heavyColumns,pts:heavyPoints,fit:heavyFit,band:heavyBand,left:514,top:57,first:false,last:false},
 {title:classNames[1],color:classColors[1],cols:bfbColumns,pts:bfbPoints,fit:bfbFit,band:bfbBand,left:118,top:423.5,first:true,last:true},
 {title:classNames[0],color:classColors[0],cols:circularColumns,pts:circularPoints,fit:circularFit,band:circularBand,left:514,top:423.5,first:false,last:true}
];
const W=379,H=300,STRIP=50.5,FONT='"Liberation Sans", Arial, sans-serif';
const chart = echarts.init(document.getElementById('c'),null,{renderer:'canvas'});
const grid=[],xAxis=[],yAxis=[],series=[],graphic=[];
panels.forEach((p,i)=>{
  grid.push({left:p.left,top:p.top,width:W,height:H,containLabel:false});
  xAxis.push({type:'value',gridIndex:i,min:-2.2,max:134.2,show:p.last,splitLine:{show:false},
    axisLine:{show:true,onZero:false,lineStyle:{color:'#111',width:3}},
    axisTick:{show:true,length:7,lineStyle:{color:'#333',width:2.5},customValues:xTicks},
    axisLabel:{show:true,rotate:45,margin:29,padding:[0,-11,0,0],fontSize:25,fontFamily:FONT,color:'#4d4d4d',customValues:xTicks,hideOverlap:false}});
  yAxis.push({type:'value',gridIndex:i,min:-.5,max:10.5,show:p.first,splitLine:{show:false},
    axisLine:{show:true,onZero:false,lineStyle:{color:'#111',width:3}},
    axisTick:{show:true,length:7,lineStyle:{color:'#333',width:2.5},customValues:yTicks},
    axisLabel:{show:true,margin:16,fontSize:25,fontFamily:FONT,color:'#4d4d4d',customValues:yTicks,formatter:v=>v.toFixed(1)}});
  const data=p.pts.slice();
  p.cols.forEach(c=>c.slice(1).forEach(y=>data.push([c[0],y])));
  series.push({type:'scatter',name:p.title,xAxisIndex:i,yAxisIndex:i,data:data,symbolSize:7.8,clip:true,
    itemStyle:{color:p.color,opacity:1},silent:true,z:2});
  const band=p.band;
  series.push({type:'custom',xAxisIndex:i,yAxisIndex:i,data:band,silent:true,z:3,clip:true,
    encode:{x:0,y:[1,2]},
    renderItem:(params,api)=>{
      if(params.dataIndex!==0) return null;
      const up=band.map(b=>api.coord([b[0],b[2]]));
      const lo=band.slice().reverse().map(b=>api.coord([b[0],b[1]]));
      return {type:'polygon',shape:{points:up.concat(lo)},style:{fill:'rgba(153,153,153,0.4)'}};
    }});
  series.push({type:'line',xAxisIndex:i,yAxisIndex:i,data:p.fit,showSymbol:false,silent:true,z:4,
    lineStyle:{color:'#000',width:6,cap:'butt'},clip:true});
  graphic.push({type:'rect',z:10,shape:{x:p.left,y:p.top-STRIP,width:W,height:STRIP},
    style:{fill:'#d9d9d9',stroke:'#333',lineWidth:2}});
  graphic.push({type:'text',z:11,x:p.left+W/2,y:p.top-STRIP/2+2,
    style:{text:p.title,font:'26.4px '+FONT,fill:'#1a1a1a',textAlign:'center',textVerticalAlign:'middle'}});
});
graphic.push({type:'text',z:11,x:506,y:810,style:{text:'WGS derived copy number',font:'32.4px '+FONT,fill:'#000',textAlign:'center',textVerticalAlign:'middle'}});
graphic.push({type:'text',z:11,x:26,y:393,rotation:Math.PI/2,style:{text:'fold FPKM\u2212UQ',font:'32.4px '+FONT,fill:'#000',textAlign:'center',textVerticalAlign:'middle'}});
graphic.push({type:'text',z:11,x:942,y:283,style:{text:'Classification',font:'32.4px '+FONT,fill:'#000',textAlign:'left',textVerticalAlign:'middle'}});
chart.setOption({
  animation:false,backgroundColor:'#fff',
  grid,xAxis,yAxis,series,graphic,
  legend:{data:classNames,orient:'vertical',left:959.5,top:320,icon:'circle',itemWidth:8,itemHeight:8,itemGap:21,
    selectedMode:false,textStyle:{fontSize:26.4,fontFamily:FONT,color:'#000',padding:[0,0,0,32],lineHeight:30}}
});
</script></body></html>
